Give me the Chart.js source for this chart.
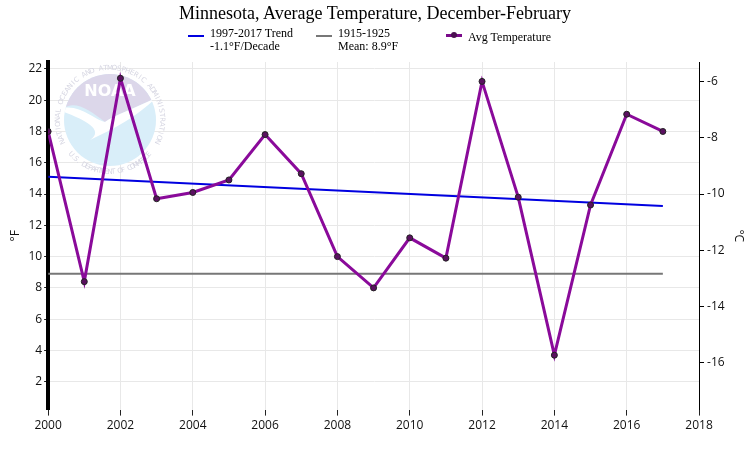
<!DOCTYPE html>
<html>
<head>
<meta charset="utf-8">
<script src="https://cdn.jsdelivr.net/npm/chart.js"></script>
<style>
  body { margin: 0; background: #fff; }
  #wrap { position: relative; width: 750px; height: 450px; }
  #title { position: absolute; left: 0; top: 3px; width: 750px; text-align: center;
           font-family: "Liberation Serif", serif; font-size: 18px; color: #000; }
  .leg { position: absolute; font-family: "Liberation Serif", serif; font-size: 12px;
         line-height: 13px; color: #000; }
  .sw { position: absolute; height: 2px; width: 16px; }
</style>
</head>
<body>
<div id="wrap">
  <canvas id="myChart" width="750" height="450"></canvas>
  <div id="title">Minnesota, Average Temperature, December-February</div>
  <div class="sw" style="left:188px;top:35px;background:#0000e0"></div>
  <div class="leg" style="left:210px;top:27px">1997-2017 Trend<br>-1.1°F/Decade</div>
  <div class="sw" style="left:316px;top:35px;background:#777"></div>
  <div class="leg" style="left:338px;top:27px">1915-1925<br>Mean: 8.9°F</div>
  <div class="sw" style="left:446px;top:34px;height:3px;background:#7a0a8a"></div>
  <div class="sw" style="left:451px;top:32px;width:6px;height:6px;border-radius:3px;background:#4a1050"></div>
  <div class="leg" style="left:468px;top:31px">Avg Temperature</div>
</div>
<script>
// 겨울 평균기온 (°F)
const years = [2000, 2001, 2002, 2003, 2004, 2005, 2006, 2007, 2008,
               2009, 2010, 2011, 2012, 2013, 2014, 2015, 2016, 2017];
const avgTemp = [18.0, 8.4, 21.4, 13.7, 14.1, 14.9, 17.8, 15.3, 10.0,
                 8.0, 11.2, 9.9, 21.2, 13.8, 3.7, 13.3, 19.1, 18.0];
// 추세선 / 평균선 양 끝
const trendYears = [2000, 2017];
const trendValues = [15.1, 13.23];
const meanYears = [2000, 2017];
const meanValues = [8.9, 8.9];

const fMin = 0.22, fMax = 22.44;
const toC = f => (f - 32) / 1.8;

const pts = (xs, ys) => xs.map((x, i) => ({ x: x, y: ys[i] }));
const evenOnly = axis => { axis.ticks = axis.ticks.filter(t => Math.abs(t.value / 2 - Math.round(t.value / 2)) < 1e-6); };

// NOAA 워터마크 (장식)
const logo = {
  id: 'logo',
  beforeDatasetsDraw(chart) {
    const c = chart.ctx, cx = 110, cy = 120, r = 46;
    c.save();
    c.beginPath(); c.arc(cx, cy, r, 0, Math.PI * 2); c.clip();
    c.fillStyle = '#d9eef9'; c.fillRect(cx - r, cy - r, 2 * r, 2 * r);
    c.fillStyle = '#dcd7ea';
    c.beginPath();
    c.moveTo(cx - r, cy - r);
    c.lineTo(cx + r, cy - r);
    c.lineTo(cx + r, cy - 22);
    c.bezierCurveTo(cx + 20, cy - 10, cx + 5, cy - 5, cx - 5, cy + 2);
    c.bezierCurveTo(cx - 20, cy - 10, cx - 35, cy - 20, cx - r, cy - 12);
    c.closePath(); c.fill();
    c.fillStyle = '#fff';
    c.beginPath();
    c.moveTo(cx - r, cy - 12);
    c.bezierCurveTo(cx - 30, cy - 15, cx - 15, cy, cx - 5, cy + 2);
    c.bezierCurveTo(cx + 5, cy - 5, cx + 25, cy - 12, cx + r, cy - 22);
    c.bezierCurveTo(cx + 25, cy - 2, cx + 5, cy + 8, cx - 20, cy + 20);
    c.bezierCurveTo(cx - 5, cy + 10, cx - 25, cy, cx - r, cy - 8);
    c.closePath(); c.fill();
    c.font = 'bold 16px "DejaVu Sans"';
    c.textAlign = 'center';
    c.fillText('NOAA', cx, cy - 24);
    c.restore();
    c.save();
    c.fillStyle = '#d6d6e2';
    c.font = '7px "DejaVu Sans"';
    c.textAlign = 'center'; c.textBaseline = 'middle';
    const arcText = (txt, a0, a1, rad, flip) => {
      const n = txt.length;
      for (let i = 0; i < n; i++) {
        const a = a0 + (a1 - a0) * (i + 0.5) / n;
        c.save();
        c.translate(cx + rad * Math.cos(a), cy + rad * Math.sin(a));
        c.rotate(flip ? a - Math.PI / 2 : a + Math.PI / 2);
        c.fillText(txt[i], 0, 0);
        c.restore();
      }
    };
    arcText('NATIONAL OCEANIC AND ATMOSPHERIC ADMINISTRATION', Math.PI * 0.85, Math.PI * 2.15, r + 6, false);
    arcText('U.S. DEPARTMENT OF COMMERCE', Math.PI * 0.78, Math.PI * 0.22, r + 6, true);
    c.restore();
  }
};

const ctx = document.getElementById('myChart').getContext('2d');
new Chart(ctx, {
  type: 'line',
  data: {
    datasets: [{
      label: 'Avg Temperature',
      data: pts(years, avgTemp),
      borderColor: '#8a0a9a',
      borderWidth: 3,
      pointRadius: 3,
      pointBackgroundColor: '#5a1060',
      pointBorderColor: '#222',
      pointBorderWidth: 1,
      tension: 0,
      order: 0
    }, {
      label: 'Trend',
      data: pts(trendYears, trendValues),
      borderColor: '#0000e0',
      borderWidth: 2,
      pointRadius: 0,
      order: 1
    }, {
      label: 'Mean',
      data: pts(meanYears, meanValues),
      borderColor: '#777',
      borderWidth: 2,
      pointRadius: 0,
      order: 2
    }]
  },
  options: {
    responsive: false,
    animation: false,
    layout: { padding: { top: 62, left: 4, right: 0, bottom: 14 } },
    plugins: { legend: { display: false }, title: { display: false }, tooltip: { enabled: false } },
    scales: {
      x: {
        type: 'linear',
        min: 2000, max: 2018,
        afterBuildTicks: evenOnly,
        ticks: { stepSize: 2, includeBounds: false, callback: v => String(v), font: { family: 'Open Sans', size: 12 }, color: '#111', maxRotation: 0 },
        grid: { color: '#e8e8e8', tickColor: '#222', tickLength: 6 },
        border: { display: false }
      },
      y: {
        position: 'left',
        min: fMin, max: fMax,
        afterBuildTicks: evenOnly,
        ticks: { stepSize: 2, includeBounds: false, font: { family: 'Open Sans', size: 12 }, color: '#111', padding: 2 },
        grid: { color: '#e8e8e8', tickColor: '#222', tickLength: 4 },
        border: { color: '#000', width: 4 },
        title: { display: true, text: '°F', font: { family: 'Open Sans', size: 12 }, color: '#111' }
      },
      yC: {
        position: 'right',
        display: true,
        min: toC(fMin), max: toC(fMax),
        afterBuildTicks: evenOnly,
        ticks: { stepSize: 2, includeBounds: false, font: { family: 'Open Sans', size: 12 }, color: '#111', padding: 3 },
        grid: { drawOnChartArea: false, tickColor: '#000', tickLength: 5 },
        border: { color: '#000', width: 1 },
        title: { display: true, text: '°C', font: { family: 'Open Sans', size: 12 }, color: '#111' }
      }
    }
  },
  plugins: [logo]
});
</script>
</body>
</html>
